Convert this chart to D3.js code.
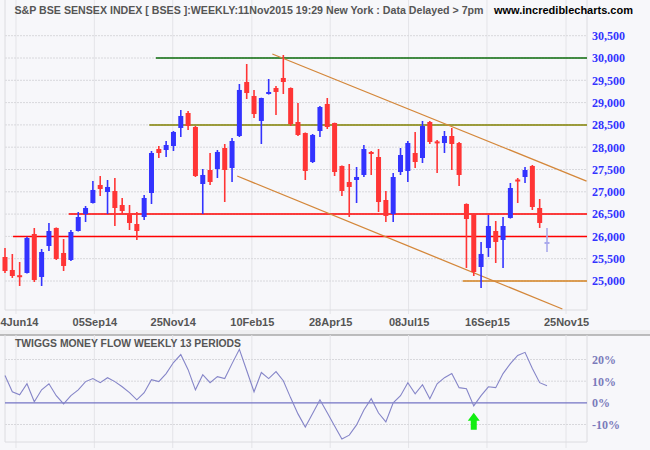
<!DOCTYPE html>
<html lang="en">
<head>
<meta charset="UTF-8">
<title>S&amp;P BSE Sensex weekly</title>
<script src="https://d3js.org/d3.v7.min.js"></script>
<style>
  body { margin: 0; background: #f7f7fa; }
  svg { display: block; }
</style>
</head>
<body>
<svg id="chart" width="650" height="450"></svg>
<script>
// weekly candles, Jun 2014 - Nov 2015
const opens = [25538, 25247, 25130, 25180, 26054, 25090, 25785, 26189, 25628, 25471,
  26121, 26502, 26749, 27153, 26996, 27018, 26704, 26502, 26278, 26435,
  26973, 27960, 27937, 28027, 28431, 28767, 28453, 27175, 27489, 27511,
  27982, 27534, 28251, 29462, 29148, 28588, 29193, 29327, 29552, 29327,
  28565, 28318, 27668, 28363, 28969, 28543, 27579, 27220, 27265, 27377,
  27893, 27780, 26816, 26502, 27444, 27467, 27870, 27758, 28565, 28130,
  28094, 28251, 28094, 26727, 26502, 25314, 25740, 26121, 25920, 26413,
  27275, 27332, 27579, 26637, 25875];
const highs = [25740, 25606, 25426, 25990, 26189, 25718, 26301, 26200, 25942, 26144,
  26547, 26682, 27242, 27354, 27265, 27310, 26861, 26704, 26547, 26928,
  27915, 28027, 28139, 28363, 28834, 28812, 28475, 27511, 27870, 27937,
  28072, 28206, 29417, 29865, 29283, 29110, 29529, 29372, 30067, 29340,
  28991, 28330, 28296, 28924, 29103, 28550, 27590, 27624, 27556, 28049,
  27915, 27960, 27018, 27422, 27982, 28139, 28341, 28588, 28588, 28162,
  28363, 28431, 28117, 26740, 26510, 25875, 26480, 26345, 26435, 27198,
  27310, 27556, 27601, 26839, 26189];
const lows = [25180, 25068, 24888, 25170, 24978, 24888, 25673, 25471, 25224, 25449,
  26110, 26323, 26740, 26906, 26502, 26233, 26502, 26144, 25920, 26368,
  26727, 27758, 27780, 27915, 28229, 28386, 27332, 26502, 27153, 27310,
  26771, 27220, 28229, 29081, 28655, 28072, 29180, 28722, 29193, 28475,
  28251, 27265, 27646, 28229, 28408, 27354, 26906, 26435, 26749, 27332,
  27377, 26547, 26323, 26323, 27377, 27220, 27534, 27646, 28072, 27422,
  27870, 27489, 27130, 25292, 25112, 24843, 25540, 25404, 25292, 26400,
  26749, 27198, 26592, 26189, 25650];
const closes = [25224, 25112, 25100, 25964, 25023, 25650, 26121, 25494, 25337, 26099,
  26435, 26637, 27041, 27063, 27108, 26637, 26570, 26301, 26121, 26861,
  27870, 27870, 28049, 28341, 28700, 28475, 27354, 27377, 27220, 27893,
  27489, 28139, 29283, 29215, 28744, 29103, 29238, 29238, 29462, 28520,
  28274, 27467, 28274, 28901, 28453, 27444, 27018, 27108, 27332, 27960,
  27848, 26771, 26458, 27332, 27825, 28094, 27668, 28475, 28117, 28110,
  28251, 28072, 27377, 26390, 25202, 25606, 26233, 25875, 26233, 27085,
  27255, 27489, 26659, 26301, 25830];

// twiggs money flow (%), one value per week
const moneyFlow = [12.6, 5.1, 3.7, 8.8, 0.5, 6.0, 8.8, 3.3, -0.5, 3.3,
  6.0, 9.8, 11.2, 9.3, 11.6, 9.8, 7.4, 4.7, 1.4, 4.7,
  10.7, 9.8, 13.5, 18.6, 22.3, 15.3, 6.0, 13.0, 9.3, 12.1,
  11.2, 18.1, 24.7, 14.9, 5.1, 14.0, 11.2, 14.4, 10.2, 2.3,
  -5.1, -11.2, -4.9, 1.4, -4.6, -10.7, -16.7, -14.9, -10.2, -3.3,
  1.9, -4.7, -8.8, 0, 3.3, 9.3, 4.2, 8.4, 1.9, 8.8,
  11.6, 13.5, 7.0, 6.5, -1.4, 3.3, 7.4, 7.0, 13.5, 18.1,
  21.9, 23.3, 15.8, 9.3, 7.9];

// first label is cut off at the left edge in the original, only "4Jun14" shows
const dateLabels = ["4Jun14", "05Sep14", "25Nov14", "10Feb15", "28Apr15", "08Jul15", "16Sep15", "25Nov15"];
const dateBars = [1.5, 12.2, 22.9, 33.7, 44.4, 55.1, 65.8, 76.6];
const priceTicks = [25000, 25500, 26000, 26500, 27000, 27500, 28000, 28500, 29000, 29500, 30000, 30500];
const mfTicks = [-10, 0, 10, 20];

// support / resistance levels and the bar each starts from
const levels = [30000, 28500, 26500, 26000, 25000];
const levelStart = [20.6, 19.7, 8.7, 1.1, 62.5];
// trend channel: [bar, price] end points
const trendUpper = [[36.5, 30090], [79.4, 27240]];
const trendLower = [[31.7, 27354], [76.1, 24372]];
const signalBar = 64;

const svg = d3.select("#chart");
const left = 5, right = 587, pBottom = 310, mTop = 335, mBottom = 442;

const x = d3.scaleLinear().domain([0, opens.length - 1]).range([5, 547]);
const y = d3.scaleLinear().domain([25000, 30000]).range([281, 58]);
const ym = d3.scaleLinear().domain([-10, 20]).range([424.5, 359.5]);

svg.append("rect").attr("width", 650).attr("height", 450).attr("fill", "#f7f7fa");

// panel separator
svg.append("rect").attr("x", 0).attr("y", 330).attr("width", 650).attr("height", 5).attr("fill", "#efeff1");
svg.append("line").attr("x1", 0).attr("x2", 650).attr("y1", mTop).attr("y2", mTop)
    .attr("stroke", "#a8a8a8").attr("stroke-width", 1.5);

const defs = svg.append("defs");
defs.append("clipPath").attr("id", "pclip")
    .append("rect").attr("x", 0).attr("y", 0).attr("width", right).attr("height", pBottom);

// grid
const grid = svg.append("g");
grid.selectAll(".vp").data(dateBars).join("line")
    .attr("x1", d => x(d)).attr("x2", d => x(d)).attr("y1", 0).attr("y2", pBottom + 4)
    .attr("stroke", "#e4e4e8");
grid.selectAll(".vm").data(dateBars).join("line")
    .attr("x1", d => x(d)).attr("x2", d => x(d)).attr("y1", mTop).attr("y2", mBottom + 6)
    .attr("stroke", "#e4e4e8");
grid.selectAll(".hp").data(priceTicks).join("line")
    .attr("x1", left).attr("x2", right).attr("y1", d => y(d)).attr("y2", d => y(d))
    .attr("stroke", "#d8d8dc").attr("stroke-dasharray", "2,1");
grid.selectAll(".hm").data(mfTicks.filter(d => d !== 0)).join("line")
    .attr("x1", left).attr("x2", right).attr("y1", d => ym(d)).attr("y2", d => ym(d))
    .attr("stroke", "#d8d8dc").attr("stroke-dasharray", "2,1");

// borders
[[left, 0, left, pBottom], [right, 0, right, pBottom], [left, pBottom, right, pBottom],
 [left, mTop, left, mBottom], [right, mTop, right, mBottom], [left, mBottom, right, mBottom]]
  .forEach(b => svg.append("line").attr("x1", b[0]).attr("y1", b[1]).attr("x2", b[2]).attr("y2", b[3])
    .attr("stroke", "#dcdce0"));

// axes
const fmt = d3.format(",");
const pAxis = svg.append("g").attr("transform", `translate(${right},0)`)
    .call(d3.axisRight(y).tickValues(priceTicks).tickFormat(fmt).tickSize(0).tickPadding(5));
pAxis.select(".domain").remove();
pAxis.selectAll("text").attr("fill", "#3333ff")
    .style("font", "bold 12px 'Liberation Serif', serif");

const mAxis = svg.append("g").attr("transform", `translate(${right},0)`)
    .call(d3.axisRight(ym).tickValues(mfTicks).tickFormat(d => d + "%").tickSize(0).tickPadding(5));
mAxis.select(".domain").remove();
mAxis.selectAll("text").attr("fill", "#7b7bbb")
    .style("font", "bold 12px 'Liberation Serif', serif");

const xAxis = svg.append("g").attr("transform", `translate(0,${pBottom})`)
    .call(d3.axisBottom(x).tickValues(dateBars).tickFormat((d, i) => dateLabels[i]).tickSize(0).tickPadding(8));
xAxis.select(".domain").remove();
xAxis.selectAll("text").attr("fill", "#555")
    .style("font", "bold 11px 'Liberation Sans', Arial, sans-serif");
// keep the clipped first label inside the picture
xAxis.selectAll("text").filter((d, i) => i === 0).attr("text-anchor", "start").attr("x", -x(dateBars[0]));

// levels and trend lines
const plot = svg.append("g").attr("clip-path", "url(#pclip)");
const levelColors = ["#0b6b0b", "#808000", "#ff0000", "#ff0000", "#d4821f"];
plot.selectAll(".lvl").data(levels).join("line")
    .attr("x1", (d, i) => x(levelStart[i])).attr("x2", right)
    .attr("y1", d => y(d)).attr("y2", d => y(d))
    .attr("stroke", (d, i) => levelColors[i]).attr("stroke-width", 1.5);

const tl = d3.line().x(d => x(d[0])).y(d => y(d[1]));
[trendUpper, trendLower].forEach(t => plot.append("path").attr("d", tl(t))
    .attr("fill", "none").attr("stroke", "#d4873a").attr("stroke-width", 1.3));

// candles
const bars = d3.range(opens.length);
const last = opens.length - 1;
const barColor = i => i === last ? "#a9a9ec" : (closes[i] >= opens[i] ? "#3333ff" : "#ff3535");
plot.selectAll(".wick").data(bars).join("line")
    .attr("x1", i => x(i)).attr("x2", i => x(i))
    .attr("y1", i => y(highs[i])).attr("y2", i => y(lows[i]))
    .attr("stroke", barColor).attr("stroke-width", 1.6);
plot.selectAll(".body").data(bars).join("rect")
    .attr("x", i => x(i) - 2.5).attr("width", 5)
    .attr("y", i => y(Math.max(opens[i], closes[i])))
    .attr("height", i => Math.max(2, Math.abs(y(opens[i]) - y(closes[i]))))
    .attr("fill", barColor);

// money flow
svg.append("line").attr("x1", left).attr("x2", right).attr("y1", ym(0)).attr("y2", ym(0))
    .attr("stroke", "#7474c4").attr("stroke-width", 1.3);
svg.append("path").datum(moneyFlow)
    .attr("d", d3.line().x((d, i) => x(i)).y(d => ym(d)))
    .attr("fill", "none").attr("stroke", "#8585c8").attr("stroke-width", 1.1);

// signal arrow
const ax = x(signalBar), at = ym(moneyFlow[signalBar]) + 7;
svg.append("path")
    .attr("d", `M${ax},${at} L${ax + 6},${at + 8} L${ax + 3},${at + 8} L${ax + 3},${at + 17} L${ax - 3},${at + 17} L${ax - 3},${at + 8} L${ax - 6},${at + 8} Z`)
    .attr("fill", "#11ee11");

// titles
svg.append("text").attr("x", 14.5).attr("y", 13.5)
    .attr("textLength", 469).attr("lengthAdjust", "spacingAndGlyphs")
    .attr("fill", "#555").style("font", "bold 11px 'Liberation Sans', Arial, sans-serif")
    .text("S&P BSE SENSEX INDEX [ BSES ]:WEEKLY:11Nov2015 19:29 New York : Data Delayed > 7pm");
svg.append("text").attr("x", 494).attr("y", 13.5)
    .attr("fill", "#000").style("font", "bold 11px 'Liberation Sans', Arial, sans-serif")
    .text("www.incrediblecharts.com");
svg.append("text").attr("x", 15).attr("y", 347)
    .attr("textLength", 226).attr("lengthAdjust", "spacingAndGlyphs")
    .attr("fill", "#555").style("font", "bold 11px 'Liberation Sans', Arial, sans-serif")
    .text("TWIGGS MONEY FLOW WEEKLY 13 PERIODS");
</script>
</body>
</html>
